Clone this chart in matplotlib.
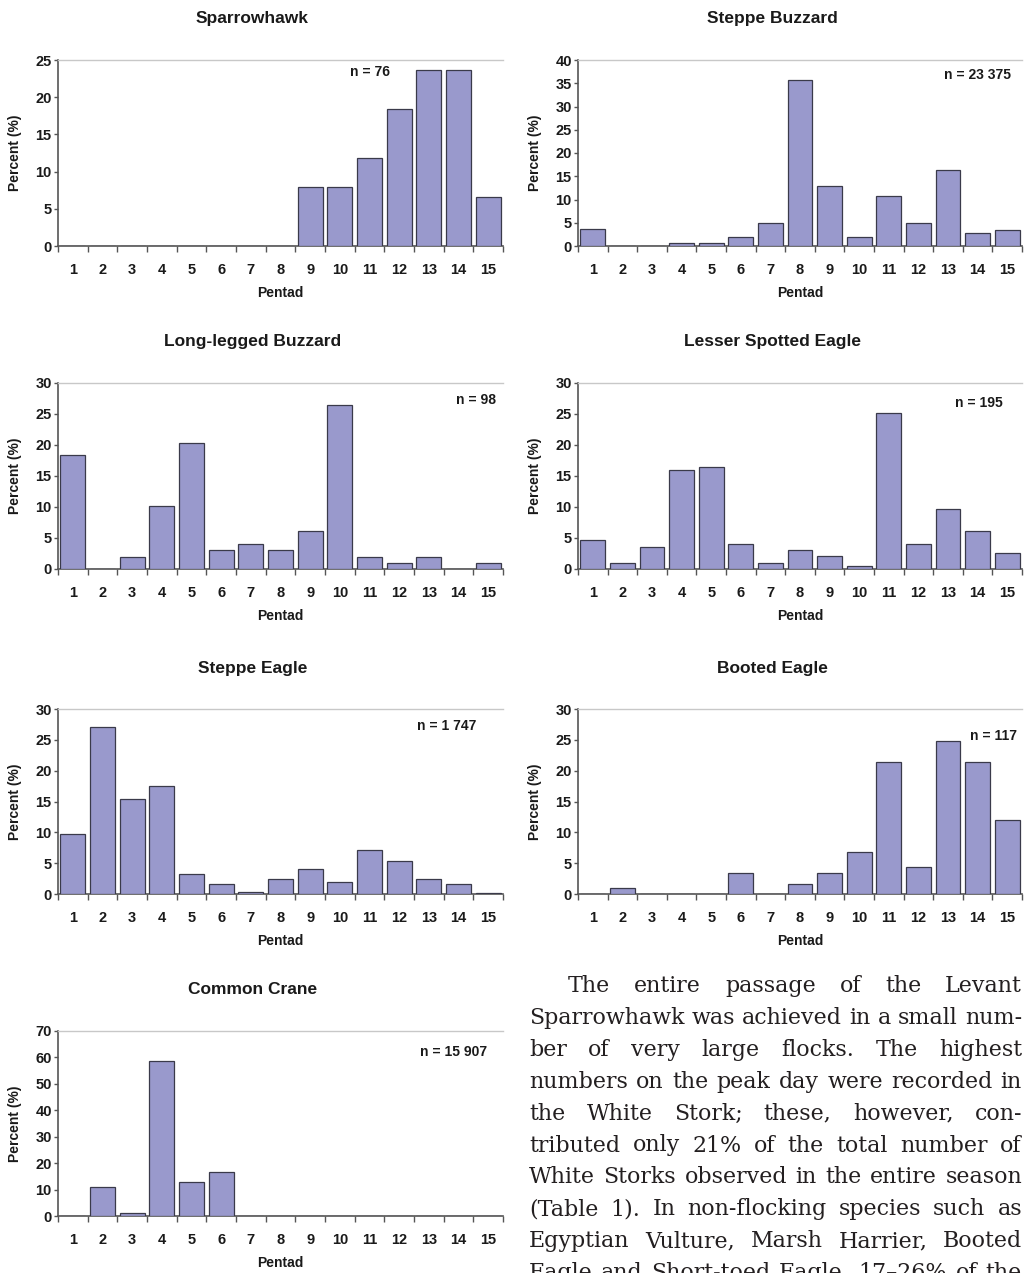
import matplotlib
matplotlib.use('Agg')
import matplotlib.pyplot as plt
from matplotlib.ticker import FixedLocator
import numpy as np

# ---------------- data ----------------
pentads = list(range(1, 16))
pentad_labels = [str(p) for p in pentads]

sparrowhawk = [0, 0, 0, 0, 0, 0, 0, 0, 7.9, 7.9, 11.8, 18.4, 23.7, 23.7, 6.6]
steppe_buzzard = [3.7, 0.1, 0.1, 0.7, 0.7, 2.0, 5.0, 35.7, 12.9, 1.9, 10.7, 5.0, 16.3, 2.8, 3.4]
long_legged_buzzard = [18.4, 0, 2.0, 10.2, 20.4, 3.1, 4.1, 3.1, 6.1, 26.5, 2.0, 1.0, 2.0, 0, 1.0]
lesser_spotted_eagle = [4.6, 1.0, 3.6, 15.9, 16.4, 4.1, 1.0, 3.1, 2.1, 0.5, 25.1, 4.1, 9.7, 6.2, 2.6]
steppe_eagle = [9.7, 27.1, 15.4, 17.5, 3.2, 1.6, 0.4, 2.4, 4.0, 2.0, 7.2, 5.4, 2.4, 1.7, 0.1]
booted_eagle = [0, 0.9, 0, 0, 0, 3.4, 0, 1.7, 3.4, 6.8, 21.4, 4.3, 24.8, 21.4, 12.0]
common_crane = [0.1, 10.8, 1.1, 58.6, 12.7, 16.5, 0.1, 0.1, 0, 0, 0, 0, 0, 0, 0]

titles = ["Sparrowhawk", "Steppe Buzzard", "Long-legged Buzzard", "Lesser Spotted Eagle",
          "Steppe Eagle", "Booted Eagle", "Common Crane"]
n_labels = ["n = 76", "n = 23 375", "n = 98", "n = 195", "n = 1 747", "n = 117", "n = 15 907"]
y_max = [25, 40, 30, 30, 30, 30, 70]
y_step = [5, 5, 5, 5, 5, 5, 10]

paragraph_lines = [
    "The entire passage of the Levant",
    "Sparrowhawk was achieved in a small num-",
    "ber of very large flocks. The highest",
    "numbers on the peak day were recorded in",
    "the White Stork; these, however, con-",
    "tributed only 21% of the total number of",
    "White Storks observed in the entire season",
    "(Table 1). In non-flocking species such as",
    "Egyptian Vulture, Marsh Harrier, Booted",
    "Eagle and Short-toed Eagle, 17\u201326% of the",
]

series = [sparrowhawk, steppe_buzzard, long_legged_buzzard, lesser_spotted_eagle,
          steppe_eagle, booted_eagle, common_crane]

# ---------------- layout (pixels) ----------------
W, H = 1028, 1273
DPI = 100
fig = plt.figure(figsize=(W / DPI, H / DPI), dpi=DPI)
fig.patch.set_facecolor('white')

# (left, top, width, height) in pixels
boxes = [
    (58, 60, 445, 186), (578, 60, 444, 186),
    (58, 383, 445, 186), (578, 383, 444, 186),
    (58, 709, 445, 185), (578, 709, 444, 185),
    (58, 1031, 445, 185),
]
n_pos = [(0.70, 0.935), (0.90, 0.92), (0.94, 0.91), (0.903, 0.89),
         (0.874, 0.91), (0.935, 0.854), (0.888, 0.886)]

SANS = ['Liberation Sans', 'Arial', 'DejaVu Sans']
BAR_COLOR = '#9999cc'
EDGE = '#3a3a4a'

for i, (vals, title, nlab, ym, ys, box, npos) in enumerate(
        zip(series, titles, n_labels, y_max, y_step, boxes, n_pos)):
    l, t, w, h = box
    ax = fig.add_axes([l / W, 1 - (t + h) / H, w / W, h / H])
    ax.bar(pentads, vals, width=0.84, color=BAR_COLOR, edgecolor=EDGE, linewidth=0.9, zorder=3)
    ax.set_xlim(0.5, 15.5)
    ax.set_ylim(0, ym)
    ax.set_yticks(np.arange(0, ym + 0.1, ys))
    ax.set_yticklabels([f"{int(v)}" for v in np.arange(0, ym + 0.1, ys)],
                       fontfamily=SANS, fontweight='bold', fontsize=10.5, color='#1a1a1a')
    ax.set_xticks(pentads)
    ax.set_xticklabels(pentad_labels, fontfamily=SANS, fontweight='bold', fontsize=10.5,
                       color='#1a1a1a')
    ax.xaxis.set_minor_locator(FixedLocator(np.arange(0.5, 15.6, 1.0)))
    ax.tick_params(axis='x', which='major', length=0, pad=12)
    ax.tick_params(axis='x', which='minor', length=4, width=1.0, color='#555555', direction='out')
    ax.tick_params(axis='y', which='major', length=3, width=1.0, color='#555555', pad=1.5)
    for side in ['left', 'bottom']:
        ax.spines[side].set_color('#555555')
        ax.spines[side].set_linewidth(1.2)
    ax.spines['right'].set_visible(False)
    ax.spines['top'].set_color('#c8c8c8')
    ax.spines['top'].set_linewidth(1.0)
    ax.set_facecolor('white')

    ax.set_ylabel("Percent (%)", fontfamily=SANS, fontweight='bold', fontsize=10, color='#1a1a1a')
    ax.yaxis.set_label_coords(-43 / w, 0.5)
    ax.yaxis.label.set_va('center')
    ax.set_xlabel("Pentad", fontfamily=SANS, fontweight='bold', fontsize=10, color='#1a1a1a')
    ax.xaxis.set_label_coords(0.5, -47 / h)
    ax.xaxis.label.set_va('center')

    ax.text(0.5 - 28 / w, 1 + 41 / h, title, transform=ax.transAxes, ha='center', va='center',
            fontfamily=SANS, fontweight='bold', fontsize=12.5, color='#1a1a1a')
    ax.text(npos[0], npos[1], nlab, transform=ax.transAxes, ha='center', va='center',
            fontfamily=SANS, fontweight='bold', fontsize=10, color='#1a1a1a')

# ---------------- justified paragraph ----------------
renderer = fig.canvas.get_renderer()
SERIF = ['DejaVu Serif']
text_left, text_right, indent_left = 529, 1022, 568
base0, lead = 992, 31.9


def natural_width(s, fs):
    tt = fig.text(0, 0, s, fontfamily=SERIF, fontsize=fs)
    wv = tt.get_window_extent(renderer=renderer).width
    tt.remove()
    return wv


trial = 16.0
ratios = []
for li, line in enumerate(paragraph_lines):
    avail = text_right - (indent_left if li == 0 else text_left)
    ratios.append(natural_width(line, trial) / avail)
PFS = trial / max(ratios)

for li, line in enumerate(paragraph_lines):
    words = line.split(' ')
    x_start = indent_left if li == 0 else text_left
    base = base0 + li * lead
    objs = []
    widths = []
    for wd in words:
        tobj = fig.text(0, 1 - base / H, wd, fontfamily=SERIF, fontsize=PFS, color='#231f20',
                        ha='left', va='baseline')
        bb = tobj.get_window_extent(renderer=renderer)
        objs.append(tobj)
        widths.append(bb.width)
    gap = (text_right - x_start - sum(widths)) / max(len(words) - 1, 1)
    x = x_start
    for tobj, wdt in zip(objs, widths):
        tobj.set_x(x / W)
        x += wdt + gap

fig.savefig('out.png', dpi=DPI, facecolor='white')
